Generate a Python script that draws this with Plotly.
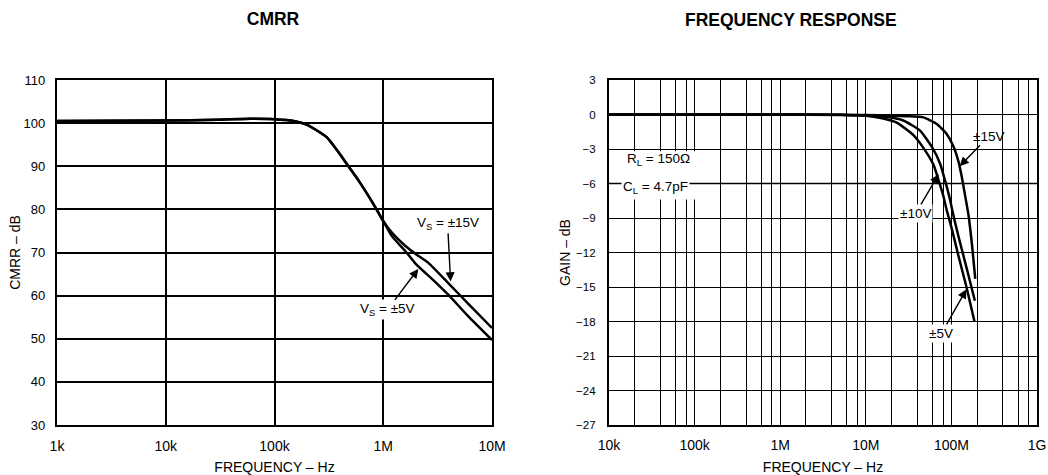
import math
import plotly.graph_objects as go

# ---------------- CMRR data ----------------
cmrr_freq_common = [1e3, 1e4, 3e4, 6e4, 1e5, 1.5e5, 2e5, 3e5, 4e5, 5e5, 6e5, 8e5, 1e6]
cmrr_common = [100.5, 100.6, 100.8, 101.0, 100.9, 100.5, 99.6, 96.8, 92.8, 89.3, 86.5, 81.5, 77.3]
cmrr_freq_15 = [1.2e6, 1.6e6, 2e6, 2.6e6, 4e6, 6e6, 1e7]
cmrr_15 = [74.6, 71.5, 69.6, 67.6, 62.8, 58.2, 52.5]
cmrr_freq_5 = [1.2e6, 1.6e6, 2e6, 3e6, 4e6, 6e6, 1e7]
cmrr_5 = [73.8, 70.3, 67.3, 63.2, 60.1, 55.3, 49.7]

cmrr_xticks = [1e3, 1e4, 1e5, 1e6, 1e7]
cmrr_xlabels = ["1k", "10k", "100k", "1M", "10M"]
cmrr_yticks = [30, 40, 50, 60, 70, 80, 90, 100, 110]

# ---------------- Frequency response data ----------------
fr_freq_15 = [1e4, 1e5, 1e6, 5e6, 1e7, 2e7, 3e7, 4.7e7, 6.7e7, 8.8e7, 1.06e8, 1.21e8, 1.32e8, 1.45e8, 1.58e8, 1.75e8, 1.9e8]
fr_gain_15 = [0, 0, 0, -0.02, -0.05, -0.1, -0.15, -0.25, -0.8, -1.7, -2.8, -4.1, -5.4, -7.1, -8.7, -11.5, -14.3]
fr_freq_10 = [1e4, 1e5, 1e6, 5e6, 1e7, 1.7e7, 2.7e7, 4.3e7, 5.9e7, 7.4e7, 8.4e7, 9.5e7, 1.05e8, 1.2e8, 1.5e8, 1.88e8]
fr_gain_10 = [0, 0, 0, -0.03, -0.08, -0.2, -0.5, -1.4, -2.8, -4.3, -5.7, -7.2, -8.7, -10.5, -13.3, -16.2]
fr_freq_5 = [1e4, 1e5, 1e6, 5e6, 1e7, 1.5e7, 2.3e7, 3.6e7, 4.9e7, 6.2e7, 7e7, 8e7, 8.8e7, 1e8, 1.2e8, 1.5e8, 1.86e8]
fr_gain_5 = [0, 0, 0, -0.04, -0.1, -0.3, -0.7, -1.8, -3.1, -4.4, -5.6, -7.0, -8.3, -9.8, -12.2, -15.0, -18.0]

fr_xticks = [1e4, 1e5, 1e6, 1e7, 1e8, 1e9]
fr_xlabels = ["10k", "100k", "1M", "10M", "100M", "1G"]
fr_yticks = [3, 0, -3, -6, -9, -12, -15, -18, -21, -24, -27]
fr_ylabels = ["3", "0", "\u22123", "\u22126", "\u22129", "\u221212", "\u221215", "\u221218", "\u221221", "\u221224", "\u221227"]
fr_minor = [m * 10 ** e for e in range(4, 9) for m in (2, 4, 6, 8)]

W, H = 1048, 475
FONT = "Liberation Sans, Arial, Helvetica, sans-serif"

def px(x):
    return x / W

def py(y):
    return 1 - y / H

def fnt(size):
    return dict(family=FONT, size=size, color="black")

fig = go.Figure()
line_style = dict(color="black", width=2.5, shape="spline", smoothing=0.5)

for fx, fy in [(cmrr_freq_15, cmrr_15), (cmrr_freq_5, cmrr_5)]:
    fig.add_trace(go.Scatter(x=cmrr_freq_common + fx, y=cmrr_common + fy, mode="lines",
                             line=line_style, xaxis="x", yaxis="y",
                             showlegend=False, hoverinfo="skip"))
for fx, fy in [(fr_freq_15, fr_gain_15), (fr_freq_10, fr_gain_10), (fr_freq_5, fr_gain_5)]:
    fig.add_trace(go.Scatter(x=fx, y=fy, mode="lines", line=line_style,
                             xaxis="x2", yaxis="y2", showlegend=False, hoverinfo="skip"))

ax_common = dict(showline=True, linecolor="black", linewidth=2.2, mirror=True,
                 showgrid=True, gridcolor="black", zeroline=False,
                 ticks="", automargin=False, fixedrange=True)

ydom = [50 / H, 1 - 80 / H]
xtitle = dict(text="FREQUENCY \u2013 Hz", font=fnt(14), standoff=11)

fig.update_layout(
    width=W, height=H,
    margin=dict(l=0, r=0, t=0, b=0),
    paper_bgcolor="white", plot_bgcolor="white",
    title=dict(text="<b>CMRR</b>", x=px(273), xanchor="center", xref="paper",
               y=py(19), yanchor="middle", yref="container", font=fnt(17.5)),
    xaxis=dict(ax_common, type="log", range=[3, 7], domain=[px(57), px(492)], anchor="y",
               tickmode="array", tickvals=cmrr_xticks, ticktext=cmrr_xlabels,
               gridwidth=1.6, tickfont=fnt(14), ticklabelstandoff=7, title=xtitle),
    yaxis=dict(ax_common, range=[30, 110], domain=ydom, anchor="x",
               tickmode="array", tickvals=cmrr_yticks, gridwidth=1.6,
               tickfont=fnt(13), ticklabelstandoff=7,
               title=dict(text="CMRR \u2013 dB", font=fnt(14), standoff=0)),
    xaxis2=dict(ax_common, type="log", range=[4, 9], domain=[px(609), px(1037)], anchor="y2",
                tickmode="array", tickvals=fr_xticks, ticktext=fr_xlabels,
                gridwidth=1.4, tickfont=fnt(14), ticklabelstandoff=6, title=xtitle,
                minor=dict(tickmode="array", tickvals=fr_minor, showgrid=True,
                           gridcolor="black", gridwidth=1.2, ticks="")),
    yaxis2=dict(ax_common, range=[-27, 3], domain=ydom, anchor="x2",
                tickmode="array", tickvals=fr_yticks, ticktext=fr_ylabels,
                gridwidth=1.4, tickfont=fnt(11.5), ticklabelstandoff=9,
                title=dict(text="GAIN \u2013 dB", font=fnt(14), standoff=2)),
)

# white box behind the R_L / C_L note (interrupts vertical grid lines)
fig.add_shape(type="rect", xref="x2", yref="y2", x0=1.06e4, x1=1.45e5, y0=-7.4, y1=-3.2,
              fillcolor="white", line=dict(width=0), layer="between")
fig.add_shape(type="line", xref="x2", yref="y2", x0=1e4, x1=1e9, y0=-6, y1=-6,
              line=dict(color="black", width=1.4), layer="between")

annots = []
annots.append(dict(text="<b>FREQUENCY RESPONSE</b>", x=px(791), y=py(20), xref="paper", yref="paper",
                   xanchor="center", yanchor="middle", showarrow=False, font=fnt(17.5)))

def label_arrow(text, xref, yref, x, y, ax, ay, bg=True):
    d = dict(text=text, x=x, y=y, xref=xref, yref=yref, showarrow=True,
             ax=ax, ay=ay, arrowhead=2, arrowsize=1.3, arrowwidth=1.4, arrowcolor="black",
             standoff=0, font=fnt(13.5))
    if bg:
        d["bgcolor"] = "white"
    return d

# CMRR labels with arrows (arrow head at curve, text at tail)
annots.append(label_arrow("V<sub>S</sub> = \u00b115V", "x", "y", math.log10(4.16e6), 63.3, -3, -58))
annots.append(label_arrow("V<sub>S</sub> = \u00b15V", "x", "y", math.log10(2.1e6), 66.2, -31, 41))

# frequency response labels
annots.append(dict(text="R<sub>L</sub> = 150\u03a9", x=math.log10(3.8e4), y=-3.95, xref="x2", yref="y2",
                   showarrow=False, font=fnt(13.5)))
annots.append(dict(text="C<sub>L</sub> = 4.7pF", x=math.log10(3.5e4), y=-6.35, xref="x2", yref="y2",
                   showarrow=False, bgcolor="white", font=fnt(13.5)))
annots.append(label_arrow("\u00b115V", "x2", "y2", math.log10(1.25e8), -4.5, 29, -30, bg=False))
annots.append(label_arrow("\u00b110V", "x2", "y2", math.log10(7.1e7), -5.2, -23, 39))
annots.append(label_arrow("\u00b15V", "x2", "y2", math.log10(1.5e8), -15.2, -25, 44))

fig.update_layout(annotations=annots)
fig.write_html("out.html", config={"displayModeBar": False},
               post_script="document.body.style.margin='0';")
